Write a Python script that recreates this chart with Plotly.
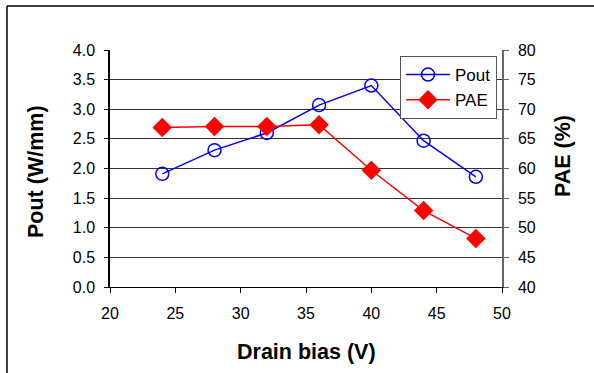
import plotly.graph_objects as go

drain_bias = [24, 28, 32, 36, 40, 44, 48]
pout = [1.91, 2.31, 2.60, 3.07, 3.40, 2.47, 1.86]
pae = [66.9, 67.1, 67.1, 67.4, 59.7, 52.9, 48.2]

font_family = "Liberation Sans, Arial, sans-serif"

L, T, R, B = 110, 50, 502, 287
W, H = 594, 373
pw, ph = R - L, B - T

def px(x):
    return (x - L) / pw

def py(y):
    return (B - y) / ph

fig = go.Figure()
fig.add_trace(go.Scatter(
    x=drain_bias, y=pout, name="Pout", mode="lines+markers",
    line=dict(color="#0000FF", width=1.5),
    marker=dict(symbol="circle-open", size=13, color="#0000FF", line=dict(width=1.5)),
))
fig.add_trace(go.Scatter(
    x=drain_bias, y=pae, name="PAE", mode="lines+markers", yaxis="y2",
    line=dict(color="#FF0000", width=1.5),
    marker=dict(symbol="diamond", size=15, color="#FF0000"),
))

fig.update_layout(
    width=W, height=H,
    margin=dict(l=L, r=W - R, t=T, b=H - B),
    paper_bgcolor="white", plot_bgcolor="white",
    font=dict(family=font_family, size=16, color="black"),
    showlegend=True,
    legend=dict(x=px(400), y=py(56), xanchor="left", yanchor="top",
                bordercolor="#555555", borderwidth=1, bgcolor="white",
                font=dict(size=17), tracegroupgap=0, itemwidth=44),
    xaxis=dict(range=[20, 50], dtick=5, tick0=20, showgrid=False,
               showline=True, linecolor="black", linewidth=1,
               ticks="outside", ticklen=5, tickcolor="black",
               ticklabelstandoff=7, zeroline=False),
    yaxis=dict(range=[0, 4], dtick=0.5, tick0=0, tickformat=".1f",
               showgrid=True, gridcolor="#333333", gridwidth=1,
               showline=True, linecolor="black", linewidth=1.5,
               ticks="outside", ticklen=4, tickcolor="black",
               ticklabelstandoff=6, zeroline=False),
    yaxis2=dict(range=[40, 80], dtick=5, tick0=40, overlaying="y", side="right",
                showgrid=False, showline=True, linecolor="#666666", linewidth=1.5,
                ticks="outside", ticklen=5, tickcolor="#666666",
                ticklabelstandoff=6, zeroline=False),
)

fig.add_annotation(text="<b>Drain bias (V)</b>", xref="paper", yref="paper",
                   x=px(306), y=py(352), showarrow=False,
                   font=dict(size=21.5), xanchor="center", yanchor="middle")
fig.add_annotation(text="<b>Pout (W/mm)</b>", xref="paper", yref="paper",
                   x=px(36), y=py(172), showarrow=False, textangle=-90,
                   font=dict(size=21.5), xanchor="center", yanchor="middle")
fig.add_annotation(text="<b>PAE (%)</b>", xref="paper", yref="paper",
                   x=px(563), y=py(156), showarrow=False, textangle=-90,
                   font=dict(size=21.5), xanchor="center", yanchor="middle")

# outer frame: only left and top edges are visible in the picture
fig.add_shape(type="line", xref="paper", yref="paper",
              x0=px(7), x1=px(7), y0=py(H), y1=py(6),
              line=dict(color="black", width=1.5), layer="below")
fig.add_shape(type="line", xref="paper", yref="paper",
              x0=px(7), x1=px(W), y0=py(6), y1=py(6),
              line=dict(color="black", width=1.5), layer="below")

fig.write_html("out.html", config={"displayModeBar": False},
               post_script="document.body.style.margin='0';"
                           "document.body.style.overflow='hidden';"
                           "document.documentElement.style.overflow='hidden';")
